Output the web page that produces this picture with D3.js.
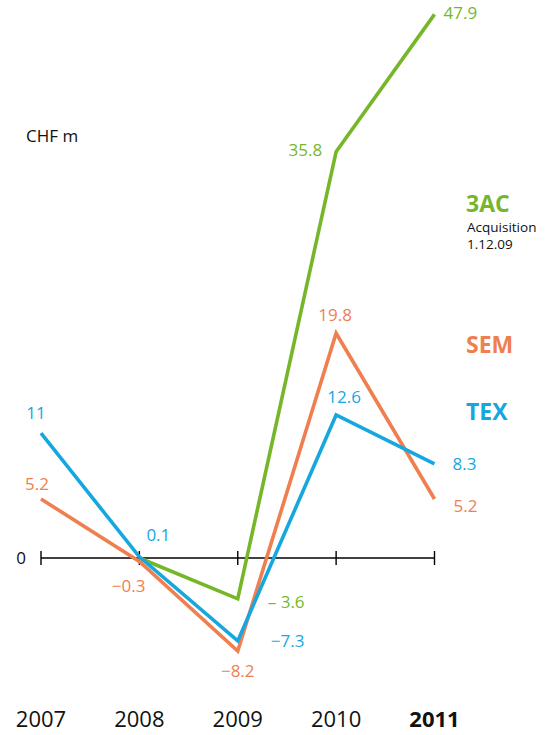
<!DOCTYPE html>
<html>
<head>
<meta charset="utf-8">
<script src="https://cdn.jsdelivr.net/npm/d3@7/dist/d3.min.js"></script>
<style>
  html, body { margin: 0; padding: 0; background: #fff; }
  svg { display: block; font-family: "Open Sans", "Noto Sans", sans-serif; }
</style>
</head>
<body>
<svg id="chart" width="548" height="735"></svg>
<script>
// Operating result by division, CHF m
const years = ["2007", "2008", "2009", "2010", "2011"];
const tex = [11, 0.1, -7.3, 12.6, 8.3];
const sem = [5.2, -0.3, -8.2, 19.8, 5.2];
const ac3 = [null, 0, -3.6, 35.8, 47.9];   // 3AC acquired 1.12.09
const seriesNames = ["3AC", "SEM", "TEX"];
const unitLabel = "CHF m";
const acquisitionNote = ["Acquisition", "1.12.09"];

const colors = { "3AC": "#76b72a", "SEM": "#ef7f4f", "TEX": "#16a7df" };

// value label placement per point: [dx, dy, anchor]
const labelPlacement = {
  "TEX": [[-5, -14, "middle"], [7, -16, "start"], [33, 6, "start"], [8, -12, "middle"], [18, 6, "start"]],
  "SEM": [[-4, -9, "middle"], [6, 31, "end"], [0, 26, "middle"], [-1, -12, "middle"], [19, 13, "start"]],
  "3AC": [null, null, [30, 9, "start"], [-14, 4, "end"], [9, 5, "start"]]
};

const svg = d3.select("#chart");

const x = d3.scalePoint().domain(years).range([41, 434.5]);
const y = d3.scaleLinear().domain([0, 40]).range([558, 558 - 40 * 11.35]);

// zero axis with year ticks
const axis = svg.append("g").attr("transform", `translate(0,${y(0)})`);
axis.append("line")
  .attr("x1", x(years[0])).attr("x2", x(years[years.length - 1]))
  .attr("stroke", "#000").attr("stroke-width", 1.3);
axis.selectAll("line.tick").data(years).join("line")
  .attr("class", "tick")
  .attr("x1", d => x(d)).attr("x2", d => x(d))
  .attr("y1", -7).attr("y2", 7)
  .attr("stroke", "#000").attr("stroke-width", 1.4);

svg.append("text")
  .attr("x", 26).attr("y", y(0) + 6)
  .attr("text-anchor", "end")
  .attr("font-size", 17).attr("fill", "#111")
  .text("0");

// year labels along the bottom
svg.selectAll("text.year").data(years).join("text")
  .attr("class", "year")
  .attr("x", d => x(d)).attr("y", 727)
  .attr("text-anchor", "middle")
  .attr("font-size", 22)
  .attr("font-weight", (d, i) => i === years.length - 1 ? 700 : 400)
  .attr("fill", "#111")
  .text(d => d);

svg.append("text")
  .attr("x", 26).attr("y", 142)
  .attr("font-size", 17).attr("fill", "#111")
  .text(unitLabel);

const series = [
  { name: "3AC", values: ac3 },
  { name: "SEM", values: sem },
  { name: "TEX", values: tex }
];

const line = d3.line()
  .defined(d => d.v !== null)
  .x(d => x(d.year))
  .y(d => y(d.v));

series.forEach(s => {
  const pts = years.map((yr, i) => ({ year: yr, v: s.values[i], i }));
  svg.append("path")
    .datum(pts)
    .attr("d", line)
    .attr("fill", "none")
    .attr("stroke", colors[s.name])
    .attr("stroke-width", 3.6)
    .attr("stroke-linejoin", "miter")
    .attr("stroke-linecap", "butt");

  const fmt = v => {
    if (v >= 0) return String(v);
    const minus = s.name === "3AC" ? "\u2013 " : "\u2212";
    return minus + Math.abs(v);
  };

  svg.selectAll(null)
    .data(pts.filter(p => p.v !== null && labelPlacement[s.name][p.i]))
    .join("text")
    .attr("x", p => x(p.year) + labelPlacement[s.name][p.i][0])
    .attr("y", p => y(p.v) + labelPlacement[s.name][p.i][1])
    .attr("text-anchor", p => labelPlacement[s.name][p.i][2])
    .attr("font-size", 17)
    .attr("fill", colors[s.name])
    .text(p => fmt(p.v));
});

// series names on the right
const legendY = { "3AC": 212, "SEM": 353, "TEX": 420 };
seriesNames.forEach(n => {
  svg.append("text")
    .attr("x", 466).attr("y", legendY[n])
    .attr("font-size", 23).attr("font-weight", 700)
    .attr("fill", colors[n])
    .text(n);
});
svg.append("text")
  .attr("x", 467).attr("font-size", 13.5).attr("fill", "#111")
  .selectAll("tspan").data(acquisitionNote).join("tspan")
  .attr("x", 467)
  .attr("y", (d, i) => 232 + i * 16.5)
  .text(d => d);
</script>
</body>
</html>
